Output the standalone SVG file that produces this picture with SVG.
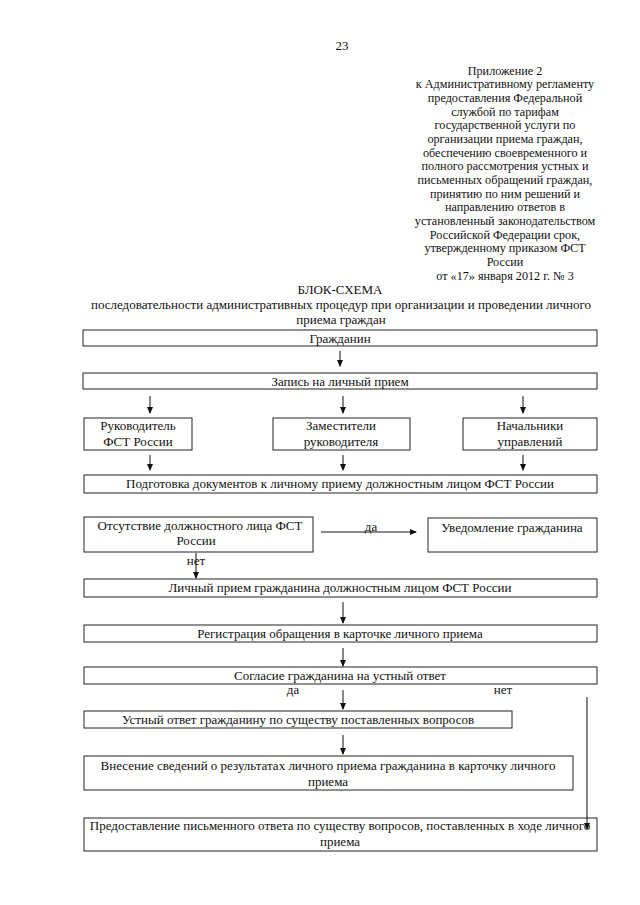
<svg xmlns="http://www.w3.org/2000/svg" width="640" height="905" viewBox="0 0 640 905">
<style>
text{font-family:"Liberation Serif","Times New Roman",serif;font-size:13px;fill:#111}
.c{text-anchor:middle}
.h{font-size:12.2px}
.box{fill:#fff;stroke:#222;stroke-width:1}
.ln{stroke:#111;stroke-width:1;fill:none}
</style>
<defs>
<marker id="a" markerWidth="7" markerHeight="7" refX="6" refY="3" orient="auto" markerUnits="userSpaceOnUse">
<path d="M0,0 L7,3 L0,6 Z" fill="#111"/>
</marker>
</defs>
<rect width="640" height="905" fill="#fff"/>
<g id="header">
<text class="c" x="342" y="50">23</text>
<text class="c h" x="505" y="74.5">Приложение 2</text>
<text class="c h" x="505" y="88.2">к Административному регламенту</text>
<text class="c h" x="505" y="101.8">предоставления Федеральной</text>
<text class="c h" x="505" y="115.5">службой по тарифам</text>
<text class="c h" x="505" y="129.2">государственной услуги по</text>
<text class="c h" x="505" y="142.8">организации приема граждан,</text>
<text class="c h" x="505" y="156.5">обеспечению своевременного и</text>
<text class="c h" x="505" y="170.2">полного рассмотрения устных и</text>
<text class="c h" x="505" y="183.8">письменных обращений граждан,</text>
<text class="c h" x="505" y="197.5">принятию по ним решений и</text>
<text class="c h" x="505" y="211.2">направлению ответов в</text>
<text class="c h" x="505" y="224.8">установленный законодательством</text>
<text class="c h" x="505" y="238.5">Российской Федерации срок,</text>
<text class="c h" x="505" y="252.2">утвержденному приказом ФСТ</text>
<text class="c h" x="505" y="265.8">России</text>
<text class="c h" x="505" y="279.5">от «17» января 2012 г. № 3</text>
<text class="c" x="340" y="294">БЛОК-СХЕМА</text>
<text class="c" x="341" y="309">последовательности административных процедур при организации и проведении личного</text>
<text class="c" x="341" y="324">приема граждан</text>
</g>
<g id="n1"><rect class="box" x="83" y="330" width="514" height="16"/><text class="c" x="340" y="343">Гражданин</text></g>
<g id="n2"><rect class="box" x="83" y="373" width="514" height="16"/><text class="c" x="340" y="386">Запись на личный прием</text></g>
<g id="n3"><rect class="box" x="84" y="418" width="108" height="32"/><text class="c" x="138" y="430">Руководитель</text><text class="c" x="138" y="446">ФСТ России</text></g>
<g id="n4"><rect class="box" x="273" y="418" width="137" height="32"/><text class="c" x="341" y="430">Заместители</text><text class="c" x="341" y="446">руководителя</text></g>
<g id="n5"><rect class="box" x="463" y="418" width="134" height="32"/><text class="c" x="530" y="430">Начальники</text><text class="c" x="530" y="446">управлений</text></g>
<g id="n6"><rect class="box" x="84" y="475" width="513" height="18"/><text class="c" x="340" y="488">Подготовка документов к личному приему должностным лицом ФСТ России</text></g>
<g id="n7"><rect class="box" x="84" y="517" width="229" height="35"/><text class="c" x="200" y="530">Отсутствие должностного лица ФСТ</text><text class="c" x="196" y="545">России</text></g>
<g id="n8"><rect class="box" x="428" y="518" width="169" height="34"/><text class="c" x="512" y="532">Уведомление гражданина</text></g>
<g id="n9"><rect class="box" x="84" y="579" width="513" height="18"/><text class="c" x="340" y="592">Личный прием гражданина должностным лицом ФСТ России</text></g>
<g id="n10"><rect class="box" x="84" y="625" width="513" height="17"/><text class="c" x="340" y="638">Регистрация обращения в карточке личного приема</text></g>
<g id="n11"><rect class="box" x="84" y="667" width="513" height="17"/><text class="c" x="340" y="680">Согласие гражданина на устный ответ</text></g>
<g id="n12"><rect class="box" x="84" y="711" width="428" height="17"/><text class="c" x="298" y="724">Устный ответ гражданину по существу поставленных вопросов</text></g>
<g id="n13"><rect class="box" x="84" y="756" width="489" height="34"/><text class="c" x="328" y="770">Внесение сведений о результатах личного приема гражданина в карточку личного</text><text class="c" x="328" y="786">приема</text></g>
<g id="n14"><rect class="box" x="84" y="818" width="513" height="33"/><text class="c" x="340" y="830">Предоставление письменного ответа по существу вопросов, поставленных в ходе личного</text><text class="c" x="340" y="846">приема</text></g>
<g id="connectors">
<line class="ln" x1="340" y1="351" x2="340" y2="366" marker-end="url(#a)"/>
<line class="ln" x1="150" y1="396" x2="150" y2="413" marker-end="url(#a)"/>
<line class="ln" x1="343" y1="396" x2="343" y2="413" marker-end="url(#a)"/>
<line class="ln" x1="523" y1="396" x2="523" y2="413" marker-end="url(#a)"/>
<line class="ln" x1="150" y1="455" x2="150" y2="470" marker-end="url(#a)"/>
<line class="ln" x1="343" y1="455" x2="343" y2="470" marker-end="url(#a)"/>
<line class="ln" x1="523" y1="455" x2="523" y2="470" marker-end="url(#a)"/>
<line class="ln" x1="321" y1="532" x2="416" y2="532" marker-end="url(#a)"/>
<line class="ln" x1="196" y1="553" x2="196" y2="578" marker-end="url(#a)"/>
<line class="ln" x1="343" y1="602" x2="343" y2="623" marker-end="url(#a)"/>
<line class="ln" x1="343" y1="648" x2="343" y2="666" marker-end="url(#a)"/>
<line class="ln" x1="343" y1="690" x2="343" y2="709" marker-end="url(#a)"/>
<line class="ln" x1="343" y1="735" x2="343" y2="754" marker-end="url(#a)"/>
<line class="ln" x1="587" y1="697" x2="587" y2="829" marker-end="url(#a)"/>
</g>
<g id="labels">
<text class="c" x="371" y="531">да</text>
<text class="c" x="196" y="565">нет</text>
<text class="c" x="293" y="694">да</text>
<text class="c" x="503" y="694">нет</text>
</g>
</svg>
